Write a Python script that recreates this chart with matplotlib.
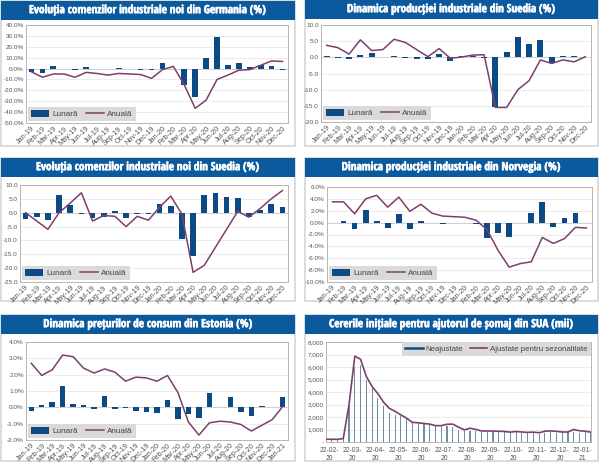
import numpy as np
import matplotlib
matplotlib.use('Agg')
import matplotlib.pyplot as plt
import matplotlib.patheffects as pe
from matplotlib.patches import Rectangle

W, H = 600, 463

months_19_20 = ['Jan-19', 'Feb-19', 'Mar-19', 'Apr-19', 'May-19', 'Jun-19', 'Jul-19', 'Aug-19',
                'Sep-19', 'Oct-19', 'Nov-19', 'Dec-19', 'Jan-20', 'Feb-20', 'Mar-20', 'Apr-20',
                'May-20', 'Jun-20', 'Jul-20', 'Aug-20', 'Sep-20', 'Oct-20', 'Nov-20', 'Dec-20']
months_estonia = months_19_20 + ['Jan-21']

de_orders_m = [-3.5, -4, 2.5, -0.3, -1.5, 1.5, -0.3, 0, 0.5, -0.3, -1, -1,
               5, 0, -15, -26, 10, 29, 3, 5.5, 1, 3, 2.5, -1.5]
de_orders_y = [-3, -8, -5, -5, -8, -3.5, -4.5, -6, -4.5, -5, -5.5, -9,
               -1, 2, -15, -36.5, -29, -10, -6, -1.5, -1, 3, 7, 6.5]

se_prod_m = [0.4, -0.3, -0.4, 0.6, 1.2, 0, 0.5, -0.3, -0.4, -0.4, 1, -1.2,
             0.5, 0.4, -0.2, -15.3, 1.5, 6.2, 4.2, 5.4, -1.6, 0.4, 0.3, 0.1]
se_prod_y = [3.7, 3, 1, 5.4, 2.1, 2.4, 5.6, 4.6, 2.4, 0.2, 2.7, -0.3,
             0.1, 0.7, 0.8, -15.5, -15.5, -10, -7.2, -0.8, -1.9, -0.8, -1.4, 0.2]

se_orders_m = [-2.2, -1.5, -2.8, 6.5, 2.8, -0.3, -2, -1.5, 0.6, -1.8, -0.4, -0.3,
               3.2, 2.5, -9.5, -15.6, 6.5, 7, 5.6, 5.2, -1.6, 1, 3.2, 2.2]
se_orders_y = [0, -3, -6, 0, 3.5, 7.2, -3, -1, -1.3, -5, -1.3, -2.7,
               2, 6, -0.5, -21.5, -19, -12.5, -6, 0.5, -1.6, 1.5, 5, 8]

no_prod_m = [0, 0.2, -1.1, 2.2, 0.2, -0.9, 1.5, -1.1, 0.2, 0, -0.2, 0,
             0, -0.2, -2.6, -1.8, -2.5, -0.1, 1.7, 3.4, -0.8, 0.8, 1.7, 0]
no_prod_y = [3.5, 3.5, 1.5, 4, 4.6, 2.6, 4.3, 1.9, 3.1, 1.6, 1.1, 1,
             0.9, 0.4, -1.2, -4.7, -7.5, -6.9, -6.6, -2.5, -3.5, -2.7, -0.8, -0.9]

ee_cpi_m = [-0.25, 0.15, 0.3, 1.3, 0.2, 0.15, -0.08, 0.7, -0.12, -0.05, -0.25, -0.3,
            -0.35, 0.47, -0.7, -0.38, -0.65, 0.88, 0, 0.62, -0.3, -0.5, 0.1, 0, 0.63]
ee_cpi_y = [2.7, 1.95, 2.3, 3.2, 3.1, 2.4, 2.1, 2.35, 2.15, 1.6, 1.85, 1.8,
            1.6, 1.95, 0.9, -0.9, -1.7, -0.95, -0.85, -0.9, -1.05, -1.45, -1.1, -0.75, 0.05]

# US initial jobless claims, weekly (thousands)
claims_raw = [200, 210, 200, 250, 2900, 6000, 6200, 5000, 4300, 3500, 2900, 2350,
              2200, 2100, 1850, 1550, 1500, 1450, 1350, 1300, 1250, 1300, 1200, 1000,
              850, 900, 850, 800, 800, 780, 780, 780, 720, 780, 720, 700,
              700, 680, 700, 780, 700, 800, 780, 800, 750, 800, 770]
claims_sa = [220, 220, 215, 280, 3000, 6870, 6620, 5240, 4440, 3870, 3180, 2690,
             2450, 2170, 1900, 1570, 1540, 1480, 1430, 1310, 1310, 1420, 1430, 1190,
             970, 1100, 1010, 880, 880, 870, 860, 840, 790, 840, 800, 770,
             790, 740, 860, 890, 850, 800, 800, 1000, 900, 860, 790]
claims_labels = ['22-02-\n20', '22-03-\n20', '22-04-\n20', '22-05-\n20', '22-06-\n20', '22-07-\n20',
                 '22-08-\n20', '22-09-\n20', '22-10-\n20', '22-11-\n20', '22-12-\n20', '22-01-\n21']

NAVY = '#0c4a86'
PLUM = '#7d3f6d'
TITLE_BG = '#0b5a9e'
TEXT = '#555555'
SANS = ['Liberation Sans', 'DejaVu Sans']
NARROW = ['Open Sans Condensed', 'Roboto Condensed', 'DejaVu Sans']

plt.rcParams['font.family'] = SANS

fig = plt.figure(figsize=(W / 100, H / 100), dpi=100, facecolor='white')


def add_rect(x0, y0, x1, y1, **kw):
    fig.add_artist(Rectangle((x0 / W, 1 - y1 / H), (x1 - x0) / W, (y1 - y0) / H,
                             transform=fig.transFigure, zorder=-5, **kw))


def make_panel(frame, title, plot):
    x0, y0, x1, y1 = frame
    add_rect(x0, y0, x1, y1, facecolor='white', edgecolor='#d6d6d6', linewidth=1.2)
    add_rect(x0, y0, x1, y0 + 19, facecolor=TITLE_BG, edgecolor='none')
    txt = fig.text((x0 + x1) / 2 / W, 1 - (y0 + 9.7) / H, title, color='white', fontsize=8.2,
                   fontweight='bold', family=NARROW, ha='center', va='center')
    txt.set_path_effects([pe.withStroke(linewidth=0.35, foreground='white')])
    px0, py0, px1, py1 = plot
    ax = fig.add_axes([px0 / W, 1 - py1 / H, (px1 - px0) / W, (py1 - py0) / H])
    ax.set_axisbelow(True)
    ax.grid(axis='y', color='#e9e9e9', linewidth=0.6)
    for s in ax.spines.values():
        s.set_color('#b5b5b5')
        s.set_linewidth(0.7)
    ax.tick_params(length=0, labelsize=4.6, labelcolor=TEXT, pad=1.5)
    return ax


def monthly_chart(frame, title, plot, labels, bars, line, yticks, fmt):
    ax = make_panel(frame, title, plot)
    x = np.arange(len(labels))
    ax.axhline(0, color='#c4c4c4', linewidth=0.5, zorder=1)
    b = ax.bar(x, bars, width=0.52, color=NAVY, label='Lunară', zorder=2)
    l, = ax.plot(x, line, color=PLUM, linewidth=1.1, label='Anuală', zorder=3)
    ax.set_xlim(-0.5, len(labels) - 0.5)
    ax.set_ylim(yticks[0], yticks[-1])
    ax.set_yticks(yticks, [fmt % v for v in yticks])
    ax.set_xticks(x, labels, rotation=45, ha='right', rotation_mode='anchor')
    ax.tick_params(axis='x', labelsize=5.2)
    ax.legend(handles=[b, l], loc='lower left', ncol=2, fontsize=5.9, frameon=True, facecolor='#dadada',
              edgecolor='none', framealpha=1, fancybox=False, borderaxespad=0.2, borderpad=0.4,
              handlelength=2.2, handleheight=0.9, columnspacing=0.9, handletextpad=0.45, labelcolor='#444444')
    return ax


monthly_chart((1, 1, 295, 146), 'Evoluția comenzilor industriale noi din Germania (%)', (26, 25, 288, 123),
              months_19_20, de_orders_m, de_orders_y, list(range(-50, 41, 10)), '%.1f%%')
monthly_chart((305, 0, 598, 146), 'Dinamica producției industriale din Suedia (%)', (321, 25, 591, 122),
              months_19_20, se_prod_m, se_prod_y, list(range(-20, 11, 5)), '%.1f')
monthly_chart((1, 158, 295, 301), 'Evoluția comenzilor industriale noi din Suedia (%)', (20, 185, 288, 282),
              months_19_20, se_orders_m, se_orders_y, list(range(-25, 11, 5)), '%.1f')
monthly_chart((305, 158, 598, 301), 'Dinamica producției industriale din Norvegia (%)', (327, 187, 592, 282),
              months_19_20, no_prod_m, no_prod_y, list(range(-10, 7, 2)), '%.1f%%')
monthly_chart((1, 315, 295, 461), 'Dinamica prețurilor de consum din Estonia (%)', (26, 342, 288, 440),
              months_estonia, ee_cpi_m, ee_cpi_y, list(range(-2, 5)), '%.1f%%')

ax = make_panel((305, 315, 598, 461), 'Cererile inițiale pentru ajutorul de șomaj din SUA (mii)', (326, 342, 591, 442))
x = np.arange(len(claims_sa))
ax.bar(x, claims_raw, width=0.2, color='#6f8da3', zorder=2)
ax.plot([], [], color=NAVY, linewidth=1.8, label='Neajustate')
ax.plot(x, claims_sa, color=PLUM, linewidth=1.2, label='Ajustate pentru sezonalitate', zorder=3)
ax.set_xlim(0, len(claims_sa) - 1)
ax.set_ylim(0, 8000)
y_vals = list(range(0, 8001, 1000))
ax.set_yticks(y_vals, ['-' if v == 0 else f'{v:,}' for v in y_vals])
ax.set_xticks(np.arange(len(claims_labels)) * 4 + 0.6, claims_labels)
ax.tick_params(axis='x', labelsize=4.9, pad=3.5)
ax.legend(loc='upper right', ncol=2, fontsize=5.7, frameon=True, facecolor='#dadada', edgecolor='none',
          framealpha=1, fancybox=False, borderaxespad=0, borderpad=0.4, handlelength=2.2,
          columnspacing=0.8, handletextpad=0.4, labelcolor='#444444')

fig.savefig('out.png', dpi=100)
